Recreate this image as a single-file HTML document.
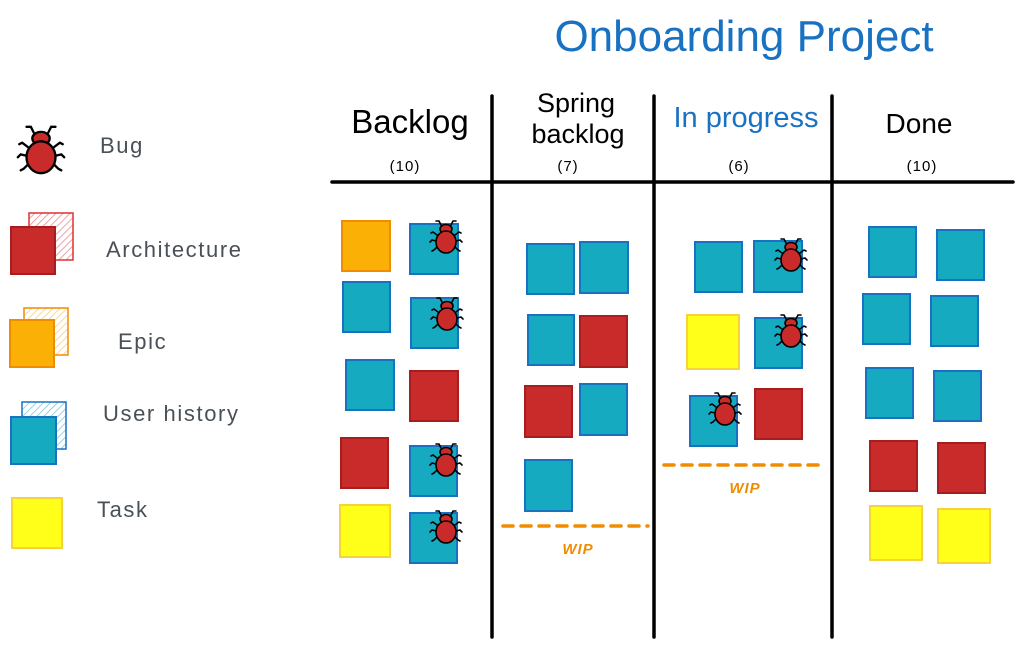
<!DOCTYPE html>
<html><head><meta charset="utf-8"><style>
html,body{margin:0;padding:0;background:#fff;width:1022px;height:646px;overflow:hidden}
svg{display:block}
.h{font-family:"Liberation Sans",sans-serif;fill:#000}
.c{font-family:"Liberation Sans",sans-serif;font-size:15px;fill:#000;letter-spacing:1px}
.l{font-family:"Liberation Sans",sans-serif;font-size:22px;fill:#495057;letter-spacing:1.6px}
.w{font-family:"Liberation Sans",sans-serif;font-size:15px;font-weight:bold;fill:#f08c00;font-style:italic;letter-spacing:1px}
</style></head><body>
<svg width="1022" height="646" viewBox="0 0 1022 646" xmlns="http://www.w3.org/2000/svg">
<defs>
<g id="bug">
 <g stroke="#000" stroke-width="1.6" fill="none" stroke-linecap="round">
  <path d="M-5,-12 L-7,-16 L-10,-16 M5,-12 L7,-16 L10,-16"/>
  <path d="M-9,-2 L-13,-5 L-15,-4 M9,-2 L13,-5 L15,-4"/>
  <path d="M-10,4 L-14,3 L-16,5 M10,4 L14,3 L16,5"/>
  <path d="M-9,10 L-12,13 L-14,14 M9,10 L12,13 L14,14"/>
 </g>
 <ellipse cx="0" cy="-8" rx="6" ry="4.5" fill="#c92a2a" stroke="#000" stroke-width="1.6"/>
 <ellipse cx="0" cy="5" rx="10" ry="11" fill="#c92a2a" stroke="#000" stroke-width="1.6"/>
</g>
<pattern id="hr" width="5" height="5" patternUnits="userSpaceOnUse" patternTransform="rotate(45)"><line x1="0" y1="0" x2="0" y2="5" stroke="#e8868a" stroke-width="1.5"/></pattern>
<pattern id="ho" width="5" height="5" patternUnits="userSpaceOnUse" patternTransform="rotate(45)"><line x1="0" y1="0" x2="0" y2="5" stroke="#fcc97a" stroke-width="1.5"/></pattern>
<pattern id="hb" width="5" height="5" patternUnits="userSpaceOnUse" patternTransform="rotate(45)"><line x1="0" y1="0" x2="0" y2="5" stroke="#74c7d8" stroke-width="1.5"/></pattern>
</defs>

<text x="744" y="51" text-anchor="middle" font-family="Liberation Sans,sans-serif" font-size="44" fill="#1971c2">Onboarding Project</text>

<text class="h" x="410" y="133" text-anchor="middle" font-size="33">Backlog</text>
<text class="h" x="576" y="112" text-anchor="middle" font-size="27">Spring</text>
<text class="h" x="578" y="143" text-anchor="middle" font-size="27">backlog</text>
<text x="746" y="127" text-anchor="middle" font-family="Liberation Sans,sans-serif" font-size="29" fill="#1971c2">In progress</text>
<text class="h" x="919" y="133" text-anchor="middle" font-size="28">Done</text>
<text class="c" x="405" y="171" text-anchor="middle">(10)</text>
<text class="c" x="568" y="171" text-anchor="middle">(7)</text>
<text class="c" x="739" y="171" text-anchor="middle">(6)</text>
<text class="c" x="922" y="171" text-anchor="middle">(10)</text>

<g stroke="#000" stroke-width="3.5" stroke-linecap="round">
<line x1="332" y1="182" x2="1013" y2="182"/>
<line x1="492" y1="96" x2="492" y2="637"/>
<line x1="654" y1="96" x2="654" y2="637"/>
<line x1="832" y1="96" x2="832" y2="637"/>
</g>

<use href="#bug" transform="translate(41,150) scale(1.45)"/>
<text class="l" x="100" y="153">Bug</text>
<rect x="29" y="213" width="44" height="47" fill="url(#hr)" stroke="#e03131" stroke-width="1.5"/>
<rect x="11" y="227" width="44" height="47" fill="#c92a2a" stroke="#a61e1e" stroke-width="2"/>
<text class="l" x="106" y="257">Architecture</text>
<rect x="24" y="308" width="44" height="47" fill="url(#ho)" stroke="#f08c00" stroke-width="1.5"/>
<rect x="10" y="320" width="44" height="47" fill="#fab005" stroke="#f08c00" stroke-width="2"/>
<text class="l" x="118" y="349">Epic</text>
<rect x="22" y="402" width="44" height="47" fill="url(#hb)" stroke="#1971c2" stroke-width="1.5"/>
<rect x="11" y="417" width="45" height="47" fill="#15aabf" stroke="#1971c2" stroke-width="2"/>
<text class="l" x="103" y="421">User history</text>
<rect x="12" y="498" width="50" height="50" fill="#ffff1a" stroke="#f5d33a" stroke-width="2"/>
<text class="l" x="97" y="517">Task</text>

<g stroke-width="2">
<g fill="#15aabf" stroke="#1971c2">
<rect x="410" y="224" width="48" height="50"/>
<rect x="343" y="282" width="47" height="50"/>
<rect x="411" y="298" width="47" height="50"/>
<rect x="346" y="360" width="48" height="50"/>
<rect x="410" y="446" width="47" height="50"/>
<rect x="410" y="513" width="47" height="50"/>
<rect x="527" y="244" width="47" height="50"/>
<rect x="580" y="242" width="48" height="51"/>
<rect x="528" y="315" width="46" height="50"/>
<rect x="580" y="384" width="47" height="51"/>
<rect x="525" y="460" width="47" height="51"/>
<rect x="695" y="242" width="47" height="50"/>
<rect x="754" y="241" width="48" height="51"/>
<rect x="755" y="318" width="47" height="50"/>
<rect x="690" y="396" width="47" height="50"/>
<rect x="869" y="227" width="47" height="50"/>
<rect x="937" y="230" width="47" height="50"/>
<rect x="863" y="294" width="47" height="50"/>
<rect x="931" y="296" width="47" height="50"/>
<rect x="866" y="368" width="47" height="50"/>
<rect x="934" y="371" width="47" height="50"/>
</g>
<g fill="#c92a2a" stroke="#a61e1e">
<rect x="410" y="371" width="48" height="50"/>
<rect x="341" y="438" width="47" height="50"/>
<rect x="580" y="316" width="47" height="51"/>
<rect x="525" y="386" width="47" height="51"/>
<rect x="755" y="389" width="47" height="50"/>
<rect x="870" y="441" width="47" height="50"/>
<rect x="938" y="443" width="47" height="50"/>
</g>
<rect x="342" y="221" width="48" height="50" fill="#fab005" stroke="#f08c00"/>
<g fill="#ffff1a" stroke="#f5d33a">
<rect x="340" y="505" width="50" height="52"/>
<rect x="687" y="315" width="52" height="54"/>
<rect x="870" y="506" width="52" height="54"/>
<rect x="938" y="509" width="52" height="54"/>
</g>
</g>

<use href="#bug" transform="translate(446,237)"/>
<use href="#bug" transform="translate(447,314)"/>
<use href="#bug" transform="translate(446,460)"/>
<use href="#bug" transform="translate(446,527)"/>
<use href="#bug" transform="translate(791,255)"/>
<use href="#bug" transform="translate(791,331)"/>
<use href="#bug" transform="translate(725,409)"/>

<line x1="503" y1="526" x2="648" y2="526" stroke="#f08c00" stroke-width="3.5" stroke-dasharray="10,8" stroke-linecap="round"/>
<text class="w" x="578" y="554" text-anchor="middle">WIP</text>
<line x1="664" y1="465" x2="818" y2="465" stroke="#f08c00" stroke-width="3.5" stroke-dasharray="10,8" stroke-linecap="round"/>
<text class="w" x="745" y="493" text-anchor="middle">WIP</text>
</svg>
</body></html>
